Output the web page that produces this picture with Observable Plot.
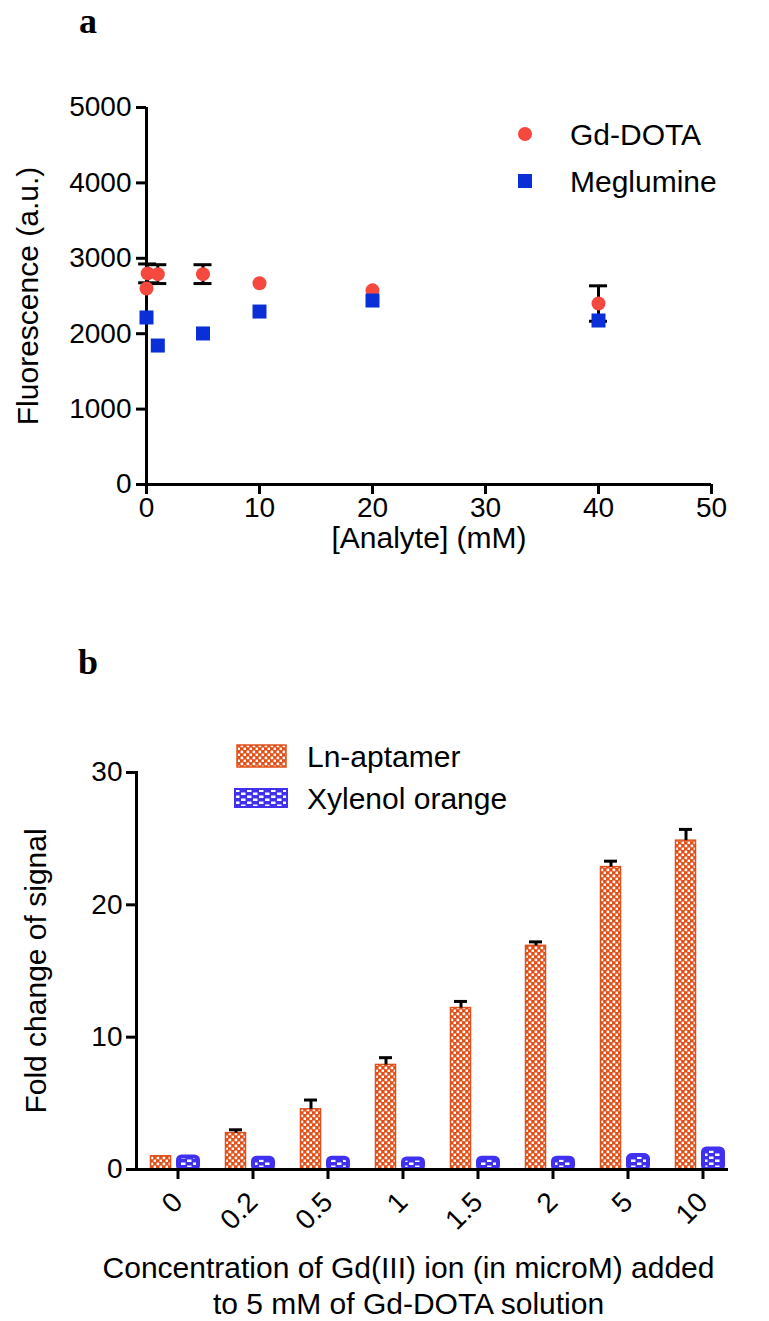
<!DOCTYPE html>
<html><head><meta charset="utf-8">
<script src="https://cdn.jsdelivr.net/npm/d3@7"></script>
<script src="https://cdn.jsdelivr.net/npm/@observablehq/plot@0.6"></script>
<style>
body{margin:0;background:#fff;}
#wrap{position:relative;width:769px;height:1321px;overflow:hidden;}
#wrap > svg, #wrap > figure{position:absolute;left:0;margin:0;}
</style></head><body>
<svg width="0" height="0" style="position:absolute">
<defs>
<pattern id="redChk" width="6" height="6" patternUnits="userSpaceOnUse">
<rect width="6" height="6" fill="#e0501a"/>
<rect x="0.6" y="0.6" width="2.6" height="2.6" fill="#fff"/>
<rect x="3.6" y="3.6" width="2.6" height="2.6" fill="#fff"/>
</pattern>
<pattern id="bluChk" width="12" height="6" patternUnits="userSpaceOnUse">
<rect width="12" height="6" fill="#4030f0"/>
<rect x="1" y="0.5" width="4.5" height="2.5" fill="#fff"/>
<rect x="7" y="3.5" width="4.5" height="2.5" fill="#fff"/>
</pattern>
</defs>
</svg>
<div id="wrap"></div>
<script>
// ---------- Panel a data ----------
const gdX   = [0, 0.1, 1, 5, 10, 20, 40];
const gdY   = [2600, 2800, 2790, 2790, 2670, 2575, 2400];
const gdErr = [0, 125, 125, 125, 0, 0, 235];
const megX  = [0, 1, 5, 10, 20, 40];
const megY  = [2215, 1843, 2003, 2294, 2440, 2175];
const aXTicks = [0, 10, 20, 30, 40, 50];
const aYTicks = [0, 1000, 2000, 3000, 4000, 5000];
const aSeries = ["Gd-DOTA", "Meglumine"];

// ---------- Panel b data ----------
const bCats  = ["0", "0.2", "0.5", "1", "1.5", "2", "5", "10"];
const lnApt  = [1.0, 2.75, 4.55, 7.9, 12.2, 16.9, 22.85, 24.85];
const lnErr  = [0, 0.25, 0.7, 0.55, 0.5, 0.3, 0.45, 0.85];
const xylOr  = [0.95, 0.85, 0.85, 0.8, 0.85, 0.85, 1.05, 1.55];
const bYTicks = [0, 10, 20, 30];
const bSeries = ["Ln-aptamer", "Xylenol orange"];

const RED = "#f5493f", BLUE = "#0a2fd6";
const ORANGE = "#e0501a", VIOLET = "#4030f0";
const FONT = "'Liberation Sans', Arial, sans-serif";
const FT = 28;   // tick labels
const FL = 30;   // titles / legend

const gd = gdX.map((x, i) => ({x, y: gdY[i], e: gdErr[i]}));
const gdE = gd.filter(d => d.e > 0);
const meg = megX.map((x, i) => ({x, y: megY[i]}));
const bData = bCats.map((c, i) => ({c, ln: lnApt[i], e: lnErr[i], xo: xylOr[i]}));
const bE = bData.filter(d => d.e > 0);

const wrap = document.getElementById("wrap");

const plotA = Plot.plot({
  width: 769, height: 570,
  marginLeft: 146, marginRight: 58, marginTop: 107, marginBottom: 86,
  style: {fontFamily: FONT, fontSize: FT + "px", color: "#000", background: "transparent"},
  x: {domain: [0, 50]},
  y: {domain: [0, 5000]},
  marks: [
    Plot.axisX({ticks: aXTicks, tickFormat: "d", tickSize: 10, tickPadding: 3, strokeWidth: 3, label: null, fontSize: FT}),
    Plot.axisY({ticks: aYTicks, tickFormat: "d", tickSize: 10, tickPadding: 5, strokeWidth: 3, label: null, fontSize: FT}),
    Plot.ruleX([0], {strokeWidth: 3}),
    Plot.ruleY([0], {strokeWidth: 3}),
    Plot.ruleX(gdE, {x: "x", y1: d => d.y - d.e, y2: d => d.y + d.e, strokeWidth: 3}),
    Plot.ruleY(gdE, {y: d => d.y + d.e, x1: "x", x2: "x", insetLeft: -9, insetRight: -9, strokeWidth: 3}),
    Plot.ruleY(gdE, {y: d => d.y - d.e, x1: "x", x2: "x", insetLeft: -9, insetRight: -9, strokeWidth: 3}),
    Plot.dot(gd, {x: "x", y: "y", r: 7, fill: RED}),
    Plot.dot(meg, {x: "x", y: "y", r: 7.9, symbol: "square", fill: BLUE}),
    Plot.text(["Fluorescence (a.u.)"], {frameAnchor: "left", dx: -118, rotate: -90, textAnchor: "middle", lineAnchor: "middle", fontSize: FL}),
    Plot.text(["[Analyte] (mM)"], {frameAnchor: "bottom", dy: 54, textAnchor: "middle", lineAnchor: "middle", fontSize: FL})
  ]
});
plotA.style.top = "0px";
wrap.appendChild(plotA);

const plotB = Plot.plot({
  width: 769, height: 621,
  marginLeft: 136, marginRight: 41, marginTop: 72, marginBottom: 152,
  style: {fontFamily: FONT, fontSize: FT + "px", color: "#000", background: "transparent"},
  x: {domain: bCats, range: [136, 736], padding: 0},
  y: {domain: [0, 30]},
  marks: [
    Plot.barY(bData, {x: "c", y: "ln", fill: "url(#redChk)", stroke: ORANGE, strokeWidth: 1.5, insetLeft: 14.5, insetRight: 40.5}),
    Plot.barY(bData, {x: "c", y: "xo", fill: "url(#bluChk)", stroke: VIOLET, strokeWidth: 4, rx: 3.5, insetLeft: 42, insetRight: 13}),
    Plot.ruleX(bE, {x: "c", y1: "ln", y2: d => d.ln + d.e, dx: -13, strokeWidth: 3}),
    Plot.tickY(bE, {x: "c", y: d => d.ln + d.e, insetLeft: 18, insetRight: 44, strokeWidth: 3}),
    Plot.axisX({tickSize: 10, tickPadding: 18, dx: 4, tickRotate: -45, strokeWidth: 3, label: null, fontSize: FT}),
    Plot.axisY({ticks: bYTicks, tickSize: 10, tickPadding: 4, strokeWidth: 3, label: null, fontSize: FT}),
    Plot.frame({anchor: "left", strokeWidth: 3}),
    Plot.ruleY([0], {strokeWidth: 3}),
    Plot.text(["Fold change of signal"], {frameAnchor: "left", dx: -100, rotate: -90, textAnchor: "middle", lineAnchor: "middle", fontSize: FL}),
    Plot.text(["Concentration of Gd(III) ion (in microM) added\nto 5 mM of Gd-DOTA solution"],
      {frameAnchor: "bottom", dx: -24, dy: 115, textAnchor: "middle", lineAnchor: "middle", lineHeight: 1.2, fontSize: FL})
  ]
});
plotB.style.top = "700px";
wrap.appendChild(plotB);

// ---------- overlay: panel letters and legends ----------
const ov = d3.select(wrap).append("svg")
  .attr("width", 769).attr("height", 1321).style("top", "0px")
  .style("font-family", FONT);
ov.append("text").attr("x", 88).attr("y", 33).attr("text-anchor", "middle")
  .style("font-family", "'Liberation Serif', 'Times New Roman', serif").style("font-weight", "bold")
  .style("font-size", "36px").text("a");
ov.append("text").attr("x", 88).attr("y", 674).attr("text-anchor", "middle")
  .style("font-family", "'Liberation Serif', 'Times New Roman', serif").style("font-weight", "bold")
  .style("font-size", "36px").text("b");

ov.append("circle").attr("cx", 525).attr("cy", 134).attr("r", 7).attr("fill", RED);
ov.append("rect").attr("x", 518).attr("y", 174).attr("width", 14).attr("height", 14).attr("fill", BLUE);
ov.append("text").attr("x", 570).attr("y", 134).attr("dy", "0.35em").style("font-size", FL + "px").text(aSeries[0]);
ov.append("text").attr("x", 570).attr("y", 181).attr("dy", "0.35em").style("font-size", FL + "px").text(aSeries[1]);

ov.append("rect").attr("x", 237).attr("y", 745).attr("width", 49).attr("height", 22)
  .attr("fill", "url(#redChk)").attr("stroke", ORANGE).attr("stroke-width", 1.5);
ov.append("rect").attr("x", 235).attr("y", 789).attr("width", 52).attr("height", 18)
  .attr("fill", "url(#bluChk)").attr("stroke", VIOLET).attr("stroke-width", 2);
ov.append("text").attr("x", 307).attr("y", 756).attr("dy", "0.35em").style("font-size", FL + "px").text(bSeries[0]);
ov.append("text").attr("x", 307).attr("y", 798).attr("dy", "0.35em").style("font-size", FL + "px").text(bSeries[1]);
</script>
</body></html>
